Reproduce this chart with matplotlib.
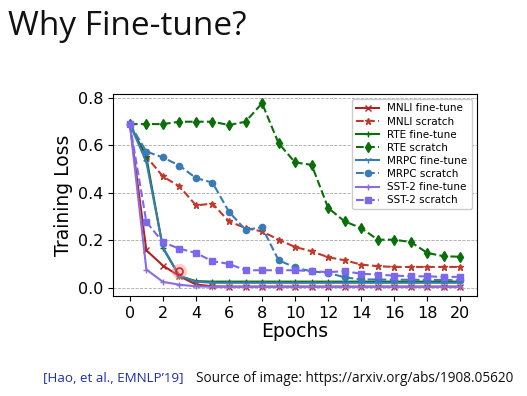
import numpy as np
import matplotlib
matplotlib.use("Agg")
import matplotlib.pyplot as plt

epochs = list(range(21))

mnli_ft = [0.69, 0.157, 0.093, 0.048, 0.013, 0.005, 0.004, 0.004, 0.004, 0.004, 0.004,
           0.004, 0.004, 0.004, 0.004, 0.004, 0.004, 0.004, 0.004, 0.004, 0.004]
mnli_sc = [0.69, 0.553, 0.469, 0.427, 0.347, 0.354, 0.279, 0.251, 0.237, 0.202, 0.171,
           0.153, 0.128, 0.115, 0.097, 0.090, 0.087, 0.087, 0.087, 0.087, 0.087]
rte_ft = [0.69, 0.55, 0.167, 0.048, 0.027, 0.025, 0.025, 0.025, 0.025, 0.025, 0.025,
          0.025, 0.025, 0.025, 0.025, 0.025, 0.025, 0.025, 0.025, 0.025, 0.025]
rte_sc = [0.69, 0.69, 0.69, 0.70, 0.70, 0.70, 0.686, 0.70, 0.778, 0.609, 0.528,
          0.518, 0.336, 0.279, 0.251, 0.202, 0.202, 0.192, 0.146, 0.132, 0.130]
mrpc_ft = [0.69, 0.53, 0.17, 0.05, 0.025, 0.02, 0.02, 0.02, 0.02, 0.02, 0.02,
           0.02, 0.02, 0.02, 0.02, 0.02, 0.02, 0.02, 0.02, 0.02, 0.02]
mrpc_sc = [0.69, 0.574, 0.549, 0.515, 0.462, 0.443, 0.319, 0.244, 0.254, 0.115, 0.085,
           0.068, 0.062, 0.043, 0.034, 0.034, 0.033, 0.033, 0.032, 0.032, 0.030]
sst_ft = [0.69, 0.076, 0.024, 0.012, 0.005, 0.003, 0.003, 0.003, 0.003, 0.003, 0.003,
          0.003, 0.003, 0.003, 0.003, 0.003, 0.003, 0.003, 0.003, 0.003, 0.003]
sst_sc = [0.69, 0.277, 0.191, 0.164, 0.146, 0.111, 0.100, 0.073, 0.073, 0.073, 0.073,
          0.069, 0.065, 0.069, 0.058, 0.055, 0.050, 0.048, 0.047, 0.045, 0.045]

fig = plt.figure(figsize=(5.27, 3.96), dpi=100)
ax = fig.add_axes([0.215, 0.2525, 0.69, 0.51])

ax.plot(epochs, mnli_ft, color='#b22222', marker='x', ms=4, lw=1.5, label='MNLI fine-tune')
ax.plot(epochs, mnli_sc, color='#c0392b', marker='*', ms=5, lw=1.5, ls='--', label='MNLI scratch')
ax.plot(epochs, rte_ft, color='#0a6e0a', marker='+', ms=5, lw=1.5, label='RTE fine-tune')
ax.plot(epochs, rte_sc, color='#0a6e0a', marker='d', ms=5, lw=1.5, ls='--', label='RTE scratch')
ax.plot(epochs, mrpc_ft, color='#3a7ab5', marker='1', ms=5, lw=1.5, label='MRPC fine-tune')
ax.plot(epochs, mrpc_sc, color='#3a7ab5', marker='o', ms=4.5, lw=1.5, ls='--', label='MRPC scratch')
ax.plot(epochs, sst_ft, color='#8a6fdc', marker='+', ms=4, lw=1.5, label='SST-2 fine-tune')
ax.plot(epochs, sst_sc, color='#7b68ee', marker='s', ms=4.5, lw=1.5, ls='--', label='SST-2 scratch')

# red pointer highlight from the slide
ax.plot([3], [0.07], 'o', ms=11, color='#ff8080', alpha=0.4, mec='none')
ax.plot([3], [0.07], 'o', ms=5, mfc='none', mec='#e02020', mew=1.2)

ax.set_xticks(range(0, 21, 2))
ax.set_yticks([0.0, 0.2, 0.4, 0.6, 0.8])
ax.tick_params(labelsize=11.5)
ax.grid(True, axis='y', ls='--', lw=0.6, color='#aaaaaa')
ax.set_xlabel('Epochs', fontsize=13.5, labelpad=1)
ax.set_ylabel('Training Loss', fontsize=13.5)
ax.legend(loc='upper right', fontsize=7.5, handlelength=2.2, labelspacing=0.3,
          borderpad=0.4, framealpha=1)

fig.text(0.015, 0.975, 'Why Fine-tune?', fontsize=24, family='Open Sans',
         va='top', ha='left', color='#111111')
fig.text(0.082, 0.045, "[Hao, et al., EMNLP\u201919]", fontsize=9.6, family='Open Sans',
         color='#1f2fa8', ha='left', va='center')
fig.text(0.372, 0.045, "Source of image: https://arxiv.org/abs/1908.05620", fontsize=9.8,
         family='Open Sans', color='#111111', ha='left', va='center')

fig.savefig('out.png', dpi=100)
